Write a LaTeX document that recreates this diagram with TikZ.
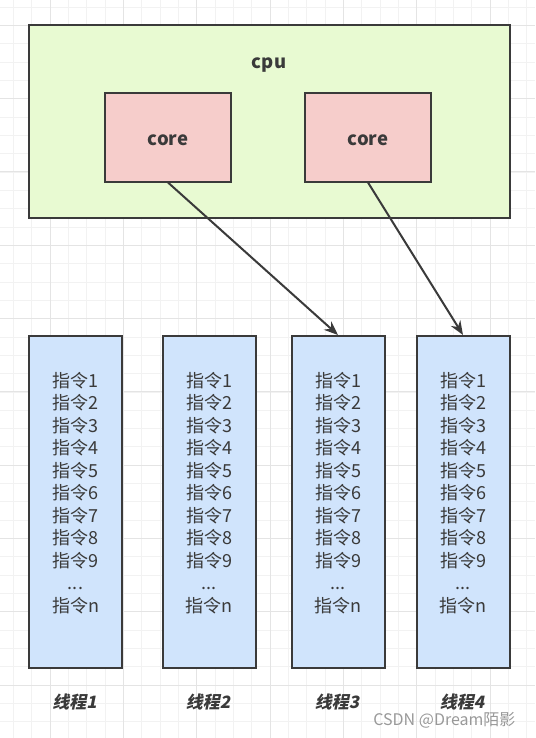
\documentclass[tikz,border=0pt]{standalone}
\usepackage{fontspec}
\setmainfont{Noto Sans CJK SC}
\newfontfamily\cjk{Noto Sans CJK SC}
\newfontfamily\cjkbi{Noto Sans CJK SC}[FakeSlant=0.2]
\usetikzlibrary{arrows.meta}
\definecolor{cpufill}{HTML}{E8FAD2}
\definecolor{corefill}{HTML}{F6CDCB}
\definecolor{thrfill}{HTML}{D0E4FC}
\definecolor{edge}{HTML}{3A3A3A}
\definecolor{gridminor}{HTML}{F2F2F2}
\definecolor{gridmajor}{HTML}{E4E4E4}
\tikzset{
  box/.style={draw=edge, line width=2pt, inner sep=0pt},
  cpubox/.style={box, fill=cpufill, minimum width=481pt, minimum height=193pt},
  corebox/.style={box, fill=corefill, minimum width=126pt, minimum height=88pt, font=\cjk\bfseries\fontsize{18.5}{20}\selectfont, text=edge, text height=16pt, text depth=0pt},
  thrbox/.style={box, fill=thrfill, minimum width=93pt, minimum height=332pt},
  instr/.style={font=\cjk\fontsize{18}{22.5}\selectfont, align=center, text=edge, inner sep=0pt},
  thrlabel/.style={font=\cjkbi\bfseries\fontsize{17}{19}\selectfont, text=edge},
  conn/.style={draw=edge, line width=2pt, -{Stealth[length=14pt,width=11pt]}},
}
\begin{document}
\begin{tikzpicture}[x=1pt,y=-1pt]
\useasboundingbox (0,0) rectangle (535,738);
\fill[white] (0,0) rectangle (535,738);
% grid
\foreach \i in {0,...,30} {
  \draw[gridminor, line width=0.8pt] ({-23.3+\i*18.33},0) -- ({-23.3+\i*18.33},738);
}
\foreach \i in {0,...,41} {
  \draw[gridminor, line width=0.8pt] (0,{25.3-18.33+\i*18.33}) -- (535,{25.3-18.33+\i*18.33});
}
\foreach \i in {0,...,8} {
  \draw[gridmajor, line width=1pt] ({-23.3+\i*73.33},0) -- ({-23.3+\i*73.33},738);
}
\foreach \i in {0,...,10} {
  \draw[gridmajor, line width=1pt] (0,{25.3-73.33+\i*73.33}) -- (535,{25.3-73.33+\i*73.33});
}
% cpu
\node[cpubox] (cpu) at (269.5,121.5) {};
\node[font=\cjk\bfseries\fontsize{18.5}{20}\selectfont, text=edge] (cpulabel) at (269,65.5) {cpu};
\node[corebox] (core1) at (168,137.5) {core};
\node[corebox] (core2) at (368,137.5) {core};
% threads
\foreach \n/\x in {1/75.5, 2/209, 3/338, 4/463} {
  \node[thrbox] (t\n) at (\x,502) {};
  \node[instr] (i\n) at (\x,493) {指令1\\指令2\\指令3\\指令4\\指令5\\指令6\\指令7\\指令8\\指令9\\...\\指令n};
  \node[thrlabel] (l\n) at (\x-1,702) {线程\n};
}
% arrows
\draw[conn] (core1.south) -- (t3.north);
\draw[conn] (core2.south) -- (t4.north);
% watermark
\node[font=\cjk\fontsize{16}{18}\selectfont, text=black!40, anchor=east] (wm) at (519,720) {CSDN @Dream陌影};
\end{tikzpicture}
\end{document}
